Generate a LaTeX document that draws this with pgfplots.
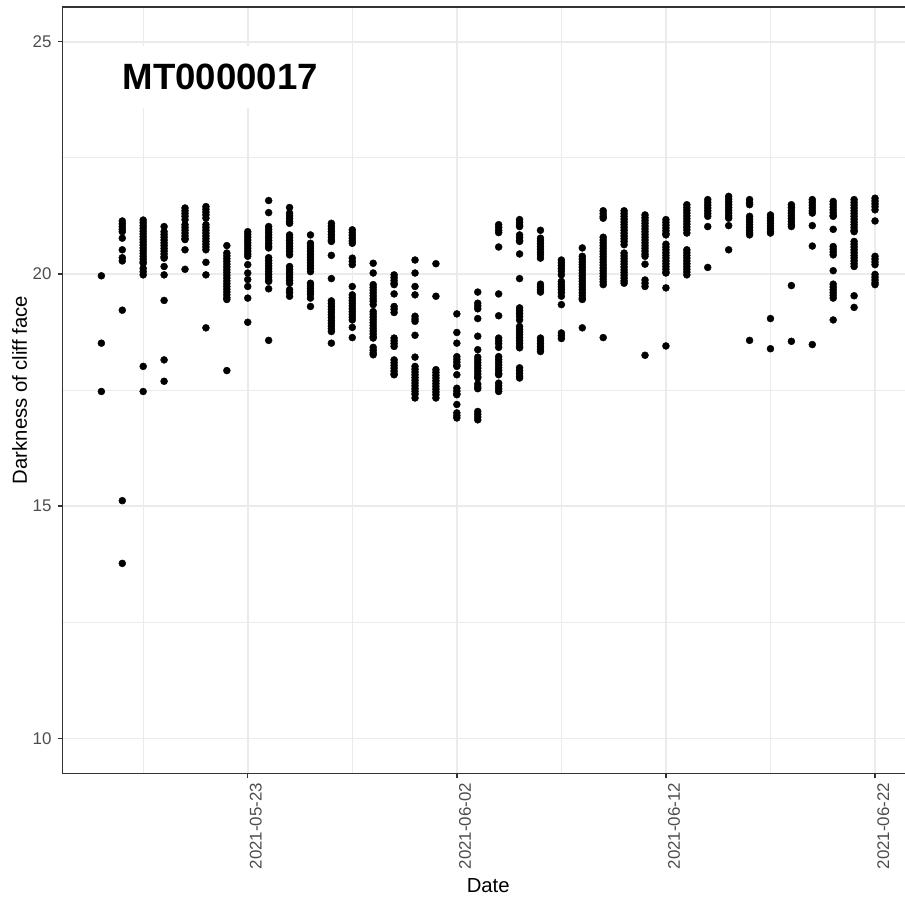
\documentclass[border=0pt]{standalone}
\usepackage{fontspec}
\setmainfont{Liberation Sans}
\usepackage{pgfplots}
\pgfplotsset{compat=1.18}
\definecolor{gridc}{HTML}{EBEBEB}
\definecolor{framec}{HTML}{333333}
\definecolor{tickc}{HTML}{4D4D4D}
\begin{document}
\begin{tikzpicture}
\begin{axis}[
  at={(0,0)}, anchor=south west,
  scale only axis, width=851pt, height=766.6pt,
  xmin=-8.85, xmax=31.85, ymin=9.25, ymax=25.75,
  xtick={0,10,20,30},
  xticklabels={2021-05-23,2021-06-02,2021-06-12,2021-06-22},
  minor xtick={-5,5,15,25},
  ytick={10,15,20,25}, minor ytick={12.5,17.5,22.5},
  grid=both,
  major grid style={gridc, line width=1.8pt},
  minor grid style={gridc, line width=1pt},
  axis line style={framec, line width=1.5pt},
  tick style={framec, line width=1.5pt},
  major tick length=5pt, minor tick length=0pt,
  tick align=outside, tick pos=left,
  /pgf/number format/assume math mode=true,
  ticklabel style={font=\fontsize{16.9}{16.9}\selectfont, text=tickc},
  xticklabel style={xshift=2pt, yshift=-4.3pt, rotate=90, anchor=north east, inner sep=0pt},
  yticklabel style={xshift=-6pt, anchor=east, inner sep=0pt},
  every axis x label/.style={at={(rel axis cs:0.5,0)}, anchor=base, yshift=-118.6pt, font=\fontsize{20.3}{20.3}\selectfont},
  every axis y label/.style={at={(rel axis cs:0,0.5)}, xshift=-35.7pt, rotate=90, anchor=base, font=\fontsize{20.3}{20.3}\selectfont},
  xlabel={Date}, ylabel={Darkness of cliff face},
  clip=false,
]
\addplot[only marks, mark=*, mark size=3.5pt, black, mark options={draw=none, fill=black}] coordinates {
(-7,19.96)(-7,18.51)(-7,17.47)
(-6,21.14)(-6,21.08)(-6,21.02)(-6,20.96)(-6,20.91)(-6,20.77)(-6,20.52)(-6,20.35)(-6,20.28)(-6,19.22)(-6,15.12)(-6,13.77)
(-5,21.16)(-5,21.10)(-5,21.04)(-5,20.98)(-5,20.92)(-5,20.86)(-5,20.80)(-5,20.74)(-5,20.68)(-5,20.62)(-5,20.56)(-5,20.50)(-5,20.44)(-5,20.38)(-5,20.32)(-5,20.26)(-5,20.23)(-5,20.12)(-5,20.05)(-5,19.98)(-5,18.01)(-5,17.47)
(-4,21.02)(-4,20.91)(-4,20.85)(-4,20.79)(-4,20.73)(-4,20.67)(-4,20.61)(-4,20.55)(-4,20.49)(-4,20.43)(-4,20.37)(-4,20.34)(-4,20.16)(-4,19.98)(-4,19.43)(-4,18.15)(-4,17.69)
(-3,21.42)(-3,21.36)(-3,21.30)(-3,21.24)(-3,21.17)(-3,21.06)(-3,21.00)(-3,20.94)(-3,20.88)(-3,20.82)(-3,20.76)(-3,20.74)(-3,20.52)(-3,20.10)
(-2,21.45)(-2,21.39)(-2,21.33)(-2,21.27)(-2,21.20)(-2,21.06)(-2,21.00)(-2,20.94)(-2,20.88)(-2,20.82)(-2,20.76)(-2,20.70)(-2,20.64)(-2,20.58)(-2,20.52)(-2,20.25)(-2,19.98)(-2,18.84)
(-1,20.61)(-1,20.45)(-1,20.39)(-1,20.33)(-1,20.27)(-1,20.21)(-1,20.15)(-1,20.09)(-1,20.03)(-1,19.97)(-1,19.91)(-1,19.85)(-1,19.79)(-1,19.73)(-1,19.67)(-1,19.61)(-1,19.55)(-1,19.49)(-1,19.45)(-1,17.92)
(0,20.91)(0,20.85)(0,20.79)(0,20.73)(0,20.67)(0,20.61)(0,20.55)(0,20.49)(0,20.43)(0,20.38)(0,20.20)(0,20.02)(0,19.88)(0,19.73)(0,19.48)(0,18.96)
(1,21.58)(1,21.32)(1,21.02)(1,20.96)(1,20.90)(1,20.84)(1,20.78)(1,20.72)(1,20.66)(1,20.60)(1,20.56)(1,20.35)(1,20.29)(1,20.23)(1,20.17)(1,20.11)(1,20.05)(1,19.99)(1,19.93)(1,19.87)(1,19.84)(1,19.68)(1,18.57)
(2,21.43)(2,21.31)(2,21.25)(2,21.19)(2,21.13)(2,21.09)(2,20.84)(2,20.78)(2,20.72)(2,20.66)(2,20.60)(2,20.54)(2,20.48)(2,20.41)(2,20.16)(2,20.10)(2,20.04)(2,19.98)(2,19.92)(2,19.86)(2,19.80)(2,19.66)(2,19.60)(2,19.52)
(3,20.84)(3,20.66)(3,20.60)(3,20.54)(3,20.48)(3,20.42)(3,20.36)(3,20.30)(3,20.24)(3,20.18)(3,20.12)(3,20.05)(3,19.80)(3,19.74)(3,19.68)(3,19.62)(3,19.56)(3,19.48)(3,19.30)
(4,21.09)(4,21.03)(4,20.97)(4,20.91)(4,20.85)(4,20.79)(4,20.73)(4,20.70)(4,20.40)(4,19.90)(4,19.42)(4,19.36)(4,19.30)(4,19.24)(4,19.18)(4,19.12)(4,19.06)(4,19.00)(4,18.94)(4,18.88)(4,18.82)(4,18.76)(4,18.51)
(5,20.95)(5,20.89)(5,20.83)(5,20.77)(5,20.71)(5,20.66)(5,20.34)(5,20.27)(5,20.20)(5,19.73)(5,19.55)(5,19.49)(5,19.43)(5,19.37)(5,19.31)(5,19.25)(5,19.19)(5,19.13)(5,19.07)(5,19.01)(5,18.85)(5,18.63)
(6,20.23)(6,20.02)(6,19.77)(6,19.71)(6,19.65)(6,19.59)(6,19.53)(6,19.47)(6,19.41)(6,19.34)(6,19.19)(6,19.13)(6,19.07)(6,19.01)(6,18.95)(6,18.89)(6,18.83)(6,18.77)(6,18.71)(6,18.65)(6,18.62)(6,18.42)(6,18.36)(6,18.30)(6,18.26)
(7,19.98)(7,19.92)(7,19.86)(7,19.80)(7,19.77)(7,19.57)(7,19.30)(7,19.24)(7,19.17)(7,18.62)(7,18.56)(7,18.50)(7,18.44)(7,18.15)(7,18.09)(7,18.03)(7,17.97)(7,17.91)(7,17.85)(7,17.83)
(8,20.30)(8,20.02)(8,19.73)(8,19.55)(8,19.09)(8,19.03)(8,18.98)(8,18.68)(8,18.21)(8,18.01)(8,17.95)(8,17.89)(8,17.83)(8,17.77)(8,17.71)(8,17.65)(8,17.59)(8,17.53)(8,17.47)(8,17.41)(8,17.33)
(9,20.22)(9,19.52)(9,17.94)(9,17.88)(9,17.82)(9,17.76)(9,17.70)(9,17.64)(9,17.58)(9,17.52)(9,17.46)(9,17.40)(9,17.33)
(10,19.14)(10,18.74)(10,18.51)(10,18.22)(10,18.16)(10,18.10)(10,18.04)(10,18.01)(10,17.83)(10,17.54)(10,17.48)(10,17.42)(10,17.40)(10,17.19)(10,17.01)(10,16.95)(10,16.90)
(11,19.61)(11,19.37)(11,19.31)(11,19.25)(11,19.04)(11,18.66)(11,18.37)(11,18.21)(11,18.15)(11,18.09)(11,18.03)(11,17.97)(11,17.91)(11,17.85)(11,17.79)(11,17.76)(11,17.63)(11,17.57)(11,17.53)(11,17.04)(11,16.98)(11,16.92)(11,16.86)
(12,21.06)(12,21.00)(12,20.94)(12,20.89)(12,20.58)(12,19.57)(12,19.10)(12,18.62)(12,18.56)(12,18.50)(12,18.42)(12,18.22)(12,18.16)(12,18.10)(12,18.04)(12,17.98)(12,17.92)(12,17.86)(12,17.83)(12,17.65)(12,17.59)(12,17.53)(12,17.47)
(13,21.17)(13,21.11)(13,21.05)(13,21.02)(13,20.84)(13,20.78)(13,20.72)(13,20.70)(13,20.43)(13,19.90)(13,19.27)(13,19.21)(13,19.15)(13,19.09)(13,19.01)(13,18.87)(13,18.81)(13,18.75)(13,18.69)(13,18.63)(13,18.57)(13,18.51)(13,18.45)(13,18.41)(13,17.98)(13,17.92)(13,17.86)(13,17.80)(13,17.76)
(14,20.94)(14,20.77)(14,20.71)(14,20.65)(14,20.59)(14,20.53)(14,20.47)(14,20.41)(14,20.34)(14,19.78)(14,19.72)(14,19.66)(14,19.61)(14,18.62)(14,18.56)(14,18.50)(14,18.44)(14,18.38)(14,18.33)
(15,20.30)(15,20.24)(15,20.18)(15,20.12)(15,20.06)(15,19.98)(15,19.84)(15,19.78)(15,19.72)(15,19.66)(15,19.60)(15,19.52)(15,19.34)(15,18.73)(15,18.67)(15,18.61)
(16,20.56)(16,20.38)(16,20.32)(16,20.26)(16,20.20)(16,20.14)(16,20.08)(16,20.02)(16,19.96)(16,19.90)(16,19.84)(16,19.78)(16,19.72)(16,19.66)(16,19.60)(16,19.54)(16,19.48)(16,19.45)(16,18.84)
(17,21.36)(17,21.30)(17,21.24)(17,21.20)(17,20.79)(17,20.73)(17,20.67)(17,20.61)(17,20.55)(17,20.49)(17,20.43)(17,20.37)(17,20.31)(17,20.25)(17,20.19)(17,20.13)(17,20.07)(17,20.01)(17,19.95)(17,19.89)(17,19.83)(17,19.77)(17,18.63)
(18,21.36)(18,21.30)(18,21.24)(18,21.18)(18,21.12)(18,21.06)(18,21.00)(18,20.94)(18,20.88)(18,20.82)(18,20.76)(18,20.70)(18,20.63)(18,20.45)(18,20.39)(18,20.33)(18,20.27)(18,20.21)(18,20.15)(18,20.09)(18,20.03)(18,19.97)(18,19.91)(18,19.85)(18,19.80)
(19,21.27)(19,21.21)(19,21.15)(19,21.09)(19,21.03)(19,20.97)(19,20.91)(19,20.85)(19,20.79)(19,20.73)(19,20.67)(19,20.61)(19,20.55)(19,20.49)(19,20.43)(19,20.38)(19,20.21)(19,19.87)(19,19.80)(19,19.73)(19,18.25)
(20,21.17)(20,21.11)(20,21.05)(20,20.99)(20,20.93)(20,20.87)(20,20.84)(20,20.64)(20,20.58)(20,20.52)(20,20.46)(20,20.40)(20,20.34)(20,20.28)(20,20.22)(20,20.16)(20,20.10)(20,20.04)(20,20.02)(20,19.70)(20,18.45)
(21,21.49)(21,21.43)(21,21.37)(21,21.31)(21,21.25)(21,21.19)(21,21.13)(21,21.07)(21,21.01)(21,20.95)(21,20.88)(21,20.52)(21,20.46)(21,20.40)(21,20.34)(21,20.28)(21,20.22)(21,20.16)(21,20.10)(21,20.04)(21,19.98)
(22,21.60)(22,21.54)(22,21.48)(22,21.42)(22,21.36)(22,21.30)(22,21.24)(22,21.02)(22,20.14)
(23,21.67)(23,21.61)(23,21.55)(23,21.49)(23,21.43)(23,21.37)(23,21.31)(23,21.25)(23,21.20)(23,21.04)(23,20.52)
(24,21.60)(24,21.54)(24,21.49)(24,21.24)(24,21.18)(24,21.12)(24,21.06)(24,21.00)(24,20.94)(24,20.88)(24,20.84)(24,18.57)
(25,21.27)(25,21.21)(25,21.15)(25,21.09)(25,21.03)(25,20.97)(25,20.91)(25,20.88)(25,19.04)(25,18.39)
(26,21.49)(26,21.43)(26,21.37)(26,21.31)(26,21.25)(26,21.19)(26,21.13)(26,21.07)(26,21.02)(26,19.75)(26,18.55)
(27,21.60)(27,21.54)(27,21.48)(27,21.42)(27,21.36)(27,21.31)(27,21.04)(27,20.60)(27,18.48)
(28,21.56)(28,21.50)(28,21.44)(28,21.38)(28,21.32)(28,21.26)(28,21.24)(28,20.96)(28,20.59)(28,20.53)(28,20.47)(28,20.41)(28,20.07)(28,19.78)(28,19.72)(28,19.66)(28,19.60)(28,19.54)(28,19.48)(28,19.01)
(29,21.60)(29,21.54)(29,21.48)(29,21.42)(29,21.36)(29,21.30)(29,21.24)(29,21.18)(29,21.12)(29,21.06)(29,21.00)(29,20.94)(29,20.91)(29,20.70)(29,20.64)(29,20.58)(29,20.52)(29,20.46)(29,20.40)(29,20.34)(29,20.28)(29,20.22)(29,20.16)(29,19.53)(29,19.28)
(30,21.63)(30,21.57)(30,21.51)(30,21.45)(30,21.38)(30,21.14)(30,20.38)(30,20.32)(30,20.26)(30,20.20)(30,19.99)(30,19.93)(30,19.87)(30,19.81)(30,19.77)
};
\node[fill=white, anchor=base, inner xsep=10.8pt, inner ysep=10.8pt, text height=33pt, text depth=7.6pt, font=\fontsize{36.6}{36.6}\selectfont\bfseries] at (axis cs:-1.31,23.96) {MT0000017};
\end{axis}
\pgfresetboundingbox
\useasboundingbox (-62.7pt,-128.6pt) rectangle (842.3pt,773.4pt);
\end{tikzpicture}
\end{document}
